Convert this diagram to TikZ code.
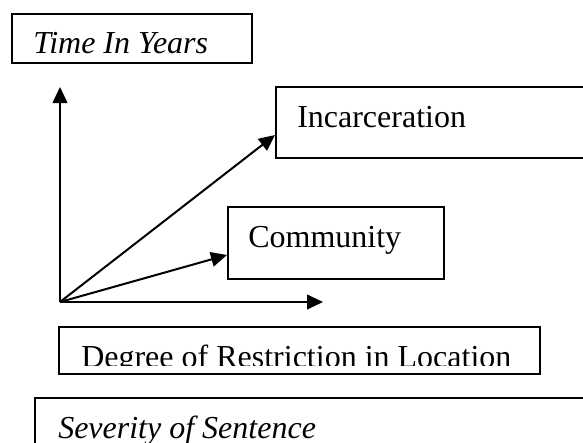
\documentclass[tikz,border=0pt]{standalone}
\usepackage{fontspec}
\setmainfont{Liberation Serif}
\usetikzlibrary{arrows.meta}

\begin{document}
\begin{tikzpicture}[x=0.75pt, y=-0.75pt,
    box/.style={draw, line width=1.5pt, inner sep=0pt},
    boxtext/.style={anchor=base west, inner sep=0pt, font=\fontsize{24}{28}\selectfont},
    axis/.style={line width=1.5pt, -{Triangle[length=12pt, width=11pt]}}]
    \path[use as bounding box, clip] (0,0) rectangle (583,443);

    % Boxes
    \node[box, minimum width=180pt, minimum height=36.75pt] (timebox) at (132,38.5) {};
    \node[box, minimum width=243pt, minimum height=53.25pt] (incarbox) at (438,122.5) {};
    \node[box, minimum width=162pt, minimum height=54pt] (commbox) at (336,243) {};
    \node[box, minimum width=360.75pt, minimum height=35.6pt] (degbox) at (299.5,350.75) {};
    \node[box, minimum width=423.75pt, minimum height=54pt] (sevbox) at (317.5,434) {};

    % Texts
    \node[boxtext, font=\fontsize{24}{28}\selectfont\itshape] (timetext) at (33,53) {Time In Years};
    \node[boxtext] (incartext) at (297,127) {Incarceration};
    \node[boxtext] (commtext) at (248,247) {Community};
    \begin{scope}
        \clip (59,327) rectangle (540,365);
        \node[boxtext] (degtext) at (81,367) {Degree of Restriction in Location};
    \end{scope}
    \node[boxtext, font=\fontsize{24}{28}\selectfont\itshape] (sevtext) at (58,438) {Severity of Sentence};

    % Axes
    \coordinate (origin) at (60,302);
    \coordinate (ytip) at (60,87);
    \coordinate (xtip) at (323,302);
    \draw[axis] (origin) -- (ytip);
    \draw[axis] (origin) -- (xtip);
    \draw[axis] (origin) -- ([yshift=-9.4pt]incarbox.west);
    \draw[axis] (origin) -- ([yshift=-9pt]commbox.west);
\end{tikzpicture}
\end{document}
